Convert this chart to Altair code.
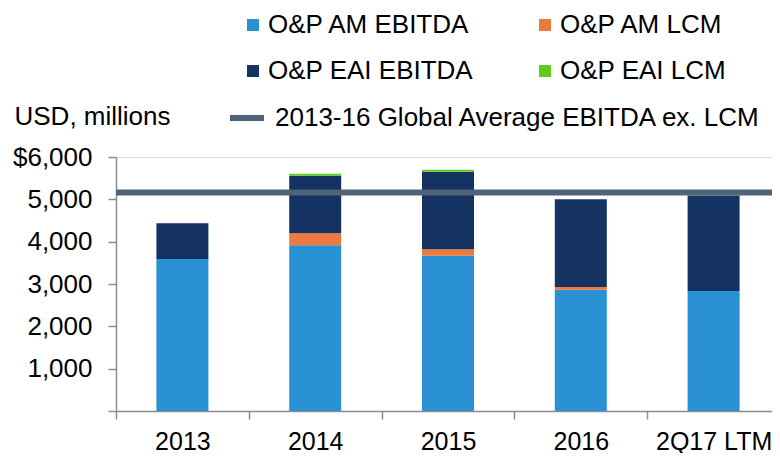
import altair as alt
import pandas as pd

categories = ["2013", "2014", "2015", "2016", "2Q17 LTM"]
series_names = ["O&P AM EBITDA", "O&P AM LCM", "O&P EAI EBITDA", "O&P EAI LCM"]
am_ebitda = [3590, 3915, 3670, 2865, 2835]
am_lcm = [0, 285, 150, 65, 0]
eai_ebitda = [845, 1360, 1830, 2070, 2255]
eai_lcm = [0, 45, 48, 0, 0]
series_colors = ["#2b91d5", "#ec7a3f", "#143262", "#5fcc1d"]
avg_label = "2013-16 Global Average EBITDA ex. LCM"
avg_value = 5160
y_ticks = [0, 1000, 2000, 3000, 4000, 5000, 6000]

rows = []
for s_i, (name, vals) in enumerate(zip(series_names, [am_ebitda, am_lcm, eai_ebitda, eai_lcm])):
    for c, v in zip(categories, vals):
        rows.append({"category": c, "series": name, "value": v, "order": s_i})
df = pd.DataFrame(rows)
avg_df = pd.DataFrame({"label": [avg_label], "value": [avg_value]})

FONT = "Liberation Sans"
AXIS_GRAY = "#8c8c8c"

bars = alt.Chart(df).mark_bar(size=52).encode(
    x=alt.X("category:N", sort=categories,
            scale=alt.Scale(paddingInner=0, paddingOuter=0, range=[0, 664]),
            axis=alt.Axis(title=None, labelAngle=0, tickBand="extent",
                          labelFontSize=25, labelFont=FONT, labelColor="black",
                          domainColor=AXIS_GRAY, tickColor=AXIS_GRAY, domainWidth=1.5,
                          tickWidth=1.5, tickSize=8, labelPadding=10)),
    y=alt.Y("value:Q", stack="zero",
            scale=alt.Scale(domain=[0, 6000], nice=False),
            axis=alt.Axis(title="USD, millions", values=y_ticks, grid=False,
                          labelExpr="datum.value == 0 ? '' : (datum.value == 6000 ? '$6,000' : format(datum.value, ','))",
                          labelFontSize=26, labelFont=FONT, labelColor="black",
                          domainColor=AXIS_GRAY, tickColor=AXIS_GRAY, domainWidth=1.5,
                          tickWidth=1.5, tickSize=8, labelPadding=16,
                          titleAngle=0, titleAlign="left", titleBaseline="alphabetic",
                          titleX=-102, titleY=-33, titleFontSize=26, titleFont=FONT,
                          titleFontWeight="normal", titleColor="black")),
    color=alt.Color("series:N", scale=alt.Scale(domain=series_names, range=series_colors),
                    legend=alt.Legend(title=None, orient="none", legendX=124, legendY=-145,
                                      columns=2, direction="horizontal",
                                      symbolType="square", symbolSize=144,
                                      labelFontSize=26, labelFont=FONT, labelColor="black",
                                      labelOffset=2, columnPadding=58, rowPadding=20,
                                      labelLimit=400)),
    order=alt.Order("order:Q"),
)

avg_rule = alt.Chart(avg_df).mark_rule(strokeWidth=6).encode(
    y="value:Q",
    stroke=alt.Stroke("label:N", scale=alt.Scale(domain=[avg_label], range=["#4f6479"]),
                      legend=alt.Legend(title=None, orient="none", legendX=111, legendY=-59,
                                        symbolType="stroke", symbolSize=1156,
                                        symbolStrokeWidth=6,
                                        labelFontSize=26, labelFont=FONT, labelColor="black",
                                        labelOffset=8, labelLimit=600)),
)

chart = alt.layer(bars, avg_rule).resolve_legend(color="independent", stroke="independent").properties(
    width=656, height=254,
    padding={"left": 108, "top": 149, "right": 0, "bottom": 42},
    autosize=alt.AutoSizeParams(type="none"),
).configure_view(stroke=None).configure(background="white")

chart.save("out.html", embed_options={"renderer": "svg", "actions": False})
